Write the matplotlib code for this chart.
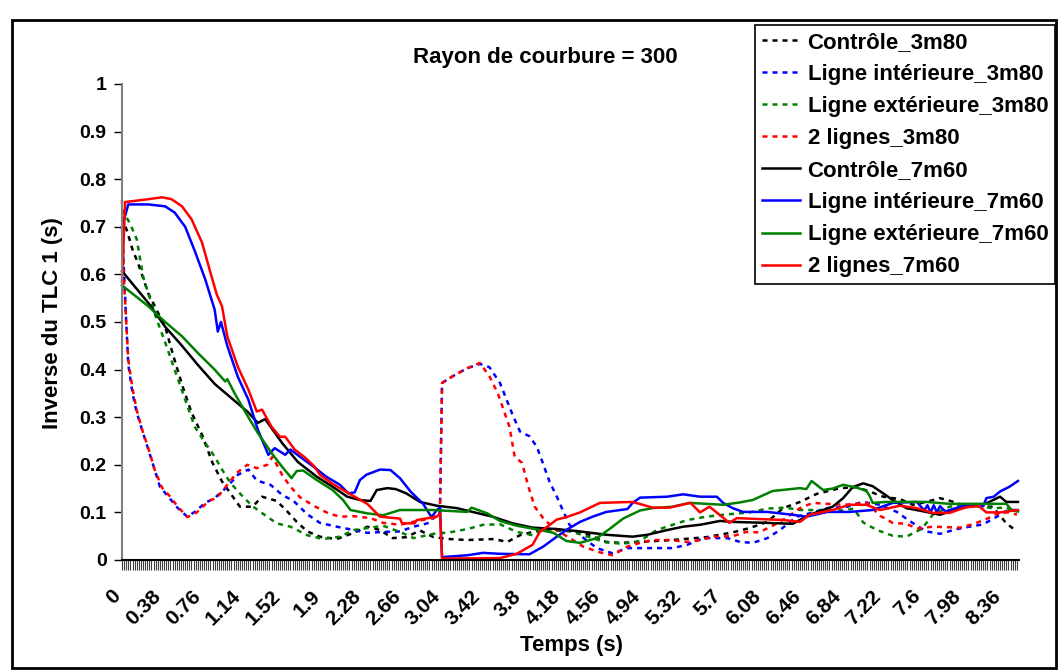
import matplotlib
matplotlib.use('Agg')
import matplotlib.pyplot as plt
from matplotlib.patches import Rectangle
from matplotlib.transforms import ScaledTranslation
import numpy as np

plt.rcParams['font.family'] = ['Liberation Sans', 'DejaVu Sans']
plt.rcParams['font.weight'] = 'bold'

title = 'Rayon de courbure = 300'
xlabel = 'Temps (s)'
ylabel = 'Inverse du TLC 1 (s)'

labels = ['Contrôle_3m80', 'Ligne intérieure_3m80', 'Ligne extérieure_3m80', '2 lignes_3m80',
          'Contrôle_7m60', 'Ligne intérieure_7m60', 'Ligne extérieure_7m60', '2 lignes_7m60']

# (time s, 1/TLC s)
ctrl_3m80 = [(0, 0.72), (0.05, 0.69), (0.1, 0.652), (0.15, 0.625), (0.25, 0.56), (0.41, 0.49),
             (0.49, 0.427), (0.58, 0.362), (0.66, 0.31), (0.76, 0.263), (0.86, 0.204), (0.95, 0.165),
             (1.03, 0.14), (1.12, 0.112), (1.24, 0.112), (1.33, 0.133), (1.47, 0.124), (1.57, 0.102),
             (1.66, 0.08), (1.76, 0.06), (1.88, 0.049), (2.04, 0.044), (2.2, 0.057), (2.33, 0.07),
             (2.45, 0.063), (2.57, 0.046), (2.7, 0.048), (2.83, 0.062), (2.96, 0.048), (3.11, 0.044),
             (3.28, 0.042), (3.53, 0.044), (3.66, 0.038), (3.78, 0.052), (3.97, 0.063), (4.22, 0.061),
             (4.38, 0.058), (4.6, 0.038), (4.73, 0.036), (4.92, 0.038), (5.23, 0.042), (5.55, 0.048),
             (5.8, 0.058), (5.96, 0.067), (6.13, 0.08), (6.28, 0.109), (6.44, 0.122), (6.6, 0.139),
             (6.82, 0.151), (6.98, 0.153), (7.1, 0.144), (7.23, 0.133), (7.39, 0.128), (7.51, 0.116),
             (7.64, 0.122), (7.77, 0.13), (7.9, 0.122), (8.02, 0.112), (8.27, 0.112), (8.4, 0.077),
             (8.5, 0.06)]

int_3m80 = [(0, 0.70), (0.02, 0.60), (0.04, 0.50), (0.06, 0.41), (0.1, 0.35), (0.14, 0.31),
            (0.19, 0.274), (0.25, 0.232), (0.31, 0.19), (0.36, 0.154), (0.44, 0.133), (0.53, 0.109),
            (0.62, 0.091), (0.69, 0.101), (0.79, 0.12), (0.88, 0.13), (1.0, 0.154), (1.1, 0.179),
            (1.2, 0.19), (1.28, 0.167), (1.41, 0.158), (1.52, 0.137), (1.63, 0.124), (1.76, 0.096),
            (1.88, 0.078), (2.04, 0.07), (2.2, 0.063), (2.33, 0.057), (2.48, 0.059), (2.64, 0.06),
            (2.77, 0.07), (2.9, 0.077), (2.96, 0.088), (3.02, 0.1), (3.04, 0.372), (3.14, 0.386),
            (3.28, 0.403), (3.4, 0.412), (3.49, 0.405), (3.59, 0.372), (3.71, 0.305), (3.78, 0.27),
            (3.87, 0.26), (3.94, 0.238), (4.0, 0.202), (4.06, 0.165), (4.13, 0.133), (4.19, 0.103),
            (4.25, 0.074), (4.38, 0.047), (4.51, 0.025), (4.66, 0.014), (4.8, 0.025), (5.0, 0.025),
            (5.23, 0.025), (5.37, 0.032), (5.52, 0.046), (5.75, 0.046), (5.87, 0.038), (5.99, 0.036),
            (6.13, 0.046), (6.25, 0.063), (6.41, 0.091), (6.53, 0.098), (6.7, 0.109), (6.89, 0.112),
            (7.03, 0.122), (7.2, 0.116), (7.36, 0.101), (7.48, 0.082), (7.64, 0.06), (7.77, 0.055),
            (7.93, 0.065), (8.05, 0.07), (8.18, 0.075), (8.31, 0.091), (8.42, 0.105), (8.5, 0.105)]

ext_3m80 = [(0, 0.737), (0.08, 0.705), (0.14, 0.674), (0.2, 0.596), (0.25, 0.56), (0.33, 0.505),
            (0.41, 0.457), (0.5, 0.40), (0.6, 0.337), (0.69, 0.28), (0.79, 0.246), (0.88, 0.217),
            (0.95, 0.19), (1.03, 0.162), (1.14, 0.135), (1.24, 0.113), (1.34, 0.097), (1.47, 0.077),
            (1.6, 0.07), (1.76, 0.052), (1.91, 0.044), (2.07, 0.049), (2.2, 0.063), (2.33, 0.067),
            (2.48, 0.072), (2.64, 0.059), (2.77, 0.046), (2.96, 0.055), (3.11, 0.058), (3.28, 0.065),
            (3.43, 0.074), (3.59, 0.075), (3.75, 0.059), (3.9, 0.052), (3.97, 0.06), (4.22, 0.063),
            (4.38, 0.052), (4.6, 0.037), (4.76, 0.034), (4.92, 0.04), (5.08, 0.063), (5.37, 0.084),
            (5.55, 0.091), (5.71, 0.095), (5.96, 0.1), (6.13, 0.108), (6.3, 0.11), (6.44, 0.105),
            (6.7, 0.105), (6.85, 0.104), (6.95, 0.108), (7.04, 0.079), (7.17, 0.063), (7.32, 0.051),
            (7.45, 0.049), (7.6, 0.066), (7.7, 0.095), (7.86, 0.112), (8.02, 0.116), (8.27, 0.109),
            (8.4, 0.11), (8.5, 0.1)]

deux_3m80 = [(0, 0.757), (0.02, 0.58), (0.04, 0.5), (0.06, 0.42), (0.1, 0.36), (0.14, 0.315),
             (0.19, 0.275), (0.25, 0.235), (0.31, 0.19), (0.38, 0.152), (0.45, 0.135), (0.53, 0.112),
             (0.62, 0.09), (0.71, 0.1), (0.83, 0.125), (0.9, 0.13), (1.0, 0.158), (1.09, 0.183),
             (1.19, 0.2), (1.28, 0.193), (1.38, 0.2), (1.43, 0.217), (1.52, 0.179), (1.6, 0.154),
             (1.69, 0.132), (1.82, 0.114), (1.96, 0.098), (2.07, 0.091), (2.2, 0.092), (2.36, 0.088),
             (2.48, 0.078), (2.64, 0.074), (2.8, 0.082), (2.96, 0.088), (3.02, 0.1), (3.04, 0.372),
             (3.14, 0.386), (3.28, 0.403), (3.4, 0.414), (3.49, 0.386), (3.57, 0.35), (3.68, 0.28),
             (3.73, 0.217), (3.8, 0.204), (3.86, 0.154), (3.92, 0.112), (4.0, 0.088), (4.1, 0.067),
             (4.26, 0.045), (4.38, 0.028), (4.54, 0.016), (4.66, 0.01), (4.8, 0.028), (4.92, 0.036),
             (5.04, 0.042), (5.2, 0.042), (5.37, 0.038), (5.5, 0.042), (5.61, 0.049), (5.8, 0.05),
             (5.93, 0.059), (6.05, 0.058), (6.18, 0.072), (6.32, 0.09), (6.44, 0.109), (6.56, 0.12),
             (6.7, 0.118), (6.85, 0.116), (6.98, 0.118), (7.08, 0.12), (7.2, 0.093), (7.32, 0.078),
             (7.45, 0.076), (7.55, 0.066), (7.7, 0.07), (7.96, 0.068), (8.08, 0.075), (8.21, 0.086),
             (8.34, 0.1), (8.43, 0.1), (8.5, 0.095)]

ctrl_7m60 = [(0, 0.607), (0.25, 0.54), (0.41, 0.49), (0.57, 0.45), (0.72, 0.41), (0.88, 0.37),
             (1.04, 0.34), (1.2, 0.31), (1.29, 0.288), (1.36, 0.296), (1.52, 0.246), (1.67, 0.206),
             (1.85, 0.175), (2.0, 0.154), (2.14, 0.133), (2.26, 0.126), (2.36, 0.124), (2.42, 0.147),
             (2.52, 0.151), (2.6, 0.149), (2.7, 0.14), (2.83, 0.122), (2.99, 0.114), (3.18, 0.109),
             (3.33, 0.101), (3.52, 0.091), (3.71, 0.077), (3.9, 0.068), (4.13, 0.065), (4.35, 0.06),
             (4.6, 0.053), (4.85, 0.049), (4.99, 0.053), (5.18, 0.063), (5.33, 0.07), (5.49, 0.074),
             (5.68, 0.082), (5.8, 0.08), (6.13, 0.078), (6.37, 0.076), (6.53, 0.095), (6.75, 0.112),
             (6.85, 0.13), (6.94, 0.153), (7.04, 0.161), (7.13, 0.155), (7.23, 0.14), (7.32, 0.126),
             (7.45, 0.109), (7.64, 0.101), (7.77, 0.095), (7.9, 0.105), (8.02, 0.111), (8.18, 0.116),
             (8.34, 0.133), (8.4, 0.122), (8.51, 0.122)]

int_7m60 = [(0, 0.70), (0.06, 0.747), (0.25, 0.747), (0.41, 0.743), (0.5, 0.73), (0.6, 0.70),
            (0.69, 0.65), (0.79, 0.59), (0.88, 0.526), (0.91, 0.48), (0.94, 0.50), (1.0, 0.45),
            (1.1, 0.385), (1.2, 0.337), (1.29, 0.274), (1.39, 0.221), (1.45, 0.235), (1.55, 0.221),
            (1.6, 0.232), (1.69, 0.217), (1.82, 0.196), (1.94, 0.175), (2.07, 0.158), (2.15, 0.14),
            (2.21, 0.142), (2.26, 0.168), (2.32, 0.179), (2.45, 0.19), (2.55, 0.189), (2.64, 0.172),
            (2.74, 0.144), (2.86, 0.118), (2.94, 0.09), (2.99, 0.105), (3.02, 0.11), (3.04, 0.006),
            (3.28, 0.01), (3.43, 0.015), (3.59, 0.013), (3.87, 0.012), (4.0, 0.028), (4.13, 0.049),
            (4.22, 0.063), (4.35, 0.08), (4.47, 0.091), (4.6, 0.101), (4.8, 0.107), (4.85, 0.12),
            (4.92, 0.131), (5.18, 0.133), (5.33, 0.138), (5.49, 0.133), (5.65, 0.133), (5.71, 0.12),
            (5.8, 0.109), (5.9, 0.101), (6.13, 0.101), (6.37, 0.095), (6.5, 0.091), (6.7, 0.101),
            (6.91, 0.101), (7.13, 0.105), (7.32, 0.12), (7.55, 0.122), (7.62, 0.104), (7.65, 0.115),
            (7.68, 0.1), (7.71, 0.115), (7.74, 0.1), (7.77, 0.113), (7.82, 0.102), (8.02, 0.116),
            (8.18, 0.113), (8.21, 0.13), (8.28, 0.133), (8.34, 0.144), (8.43, 0.154), (8.51, 0.166)]

ext_7m60 = [(0, 0.577), (0.25, 0.533), (0.41, 0.50), (0.57, 0.47), (0.72, 0.435), (0.88, 0.40),
            (0.98, 0.375), (1.0, 0.38), (1.07, 0.35), (1.2, 0.30), (1.29, 0.267), (1.42, 0.225),
            (1.52, 0.196), (1.61, 0.172), (1.66, 0.187), (1.72, 0.188), (1.85, 0.168), (2.0, 0.147),
            (2.1, 0.126), (2.17, 0.105), (2.33, 0.098), (2.48, 0.094), (2.64, 0.105), (2.95, 0.105),
            (3.28, 0.101), (3.32, 0.11), (3.47, 0.098), (3.59, 0.082), (3.75, 0.072), (3.97, 0.063),
            (4.1, 0.057), (4.22, 0.04), (4.35, 0.036), (4.51, 0.046), (4.63, 0.065), (4.76, 0.087),
            (4.92, 0.104), (5.04, 0.109), (5.23, 0.112), (5.39, 0.12), (5.55, 0.118), (5.71, 0.116),
            (5.87, 0.121), (5.99, 0.126), (6.06, 0.133), (6.18, 0.145), (6.44, 0.151), (6.5, 0.149),
            (6.55, 0.166), (6.66, 0.147), (6.75, 0.15), (6.85, 0.158), (6.98, 0.152), (7.07, 0.145),
            (7.1, 0.135), (7.13, 0.12), (7.26, 0.122), (7.64, 0.122), (7.86, 0.118), (8.2, 0.118),
            (8.4, 0.118), (8.45, 0.105), (8.51, 0.102)]

deux_7m60 = [(0, 0.585), (0.03, 0.752), (0.25, 0.758), (0.38, 0.762), (0.47, 0.758), (0.57, 0.743),
             (0.66, 0.716), (0.76, 0.667), (0.85, 0.596), (0.9, 0.558), (0.95, 0.533), (1.0, 0.47),
             (1.1, 0.406), (1.2, 0.358), (1.28, 0.312), (1.33, 0.316), (1.42, 0.28), (1.5, 0.259),
             (1.55, 0.259), (1.64, 0.232), (1.74, 0.215), (1.83, 0.196), (1.88, 0.179), (2.0, 0.16),
             (2.17, 0.138), (2.33, 0.118), (2.45, 0.091), (2.64, 0.087), (2.66, 0.077), (2.78, 0.077),
             (2.8, 0.084), (2.99, 0.091), (3.02, 0.098), (3.04, 0.003), (3.59, 0.004), (3.75, 0.013),
             (3.9, 0.032), (3.97, 0.06), (4.04, 0.07), (4.13, 0.085), (4.22, 0.09), (4.35, 0.1),
             (4.54, 0.12), (4.85, 0.122), (5.04, 0.11), (5.2, 0.11), (5.4, 0.12), (5.49, 0.1),
             (5.58, 0.112), (5.77, 0.078), (5.84, 0.088), (6.28, 0.084), (6.44, 0.08), (6.53, 0.095),
             (6.75, 0.105), (6.91, 0.116), (7.07, 0.116), (7.2, 0.105), (7.39, 0.114), (7.55, 0.109),
             (7.7, 0.099), (7.86, 0.099), (8.02, 0.111), (8.14, 0.113), (8.21, 0.1), (8.34, 0.1),
             (8.51, 0.105)]

series = [ctrl_3m80, int_3m80, ext_3m80, deux_3m80, ctrl_7m60, int_7m60, ext_7m60, deux_7m60]
colors = ['black', '#0000ff', '#008000', '#ff0000'] * 2
styles = [(0, (2, 2))] * 4 + ['-'] * 4

W, H = 1058, 670
fig = plt.figure(figsize=(W / 100, H / 100), dpi=100)
fig.add_artist(Rectangle((12 / W, 1 - 668 / H), (1056 - 12) / W, (668 - 20) / H,
                         transform=fig.transFigure, fill=False, ec='black', lw=2))

ax = fig.add_axes([122 / W, (H - 560) / H, (1019 - 122) / W, (560 - 84) / H])
handles = []
for pts, c, ls, lab in zip(series, colors, styles, labels):
    t = [p[0] for p in pts]
    v = [p[1] for p in pts]
    h, = ax.plot(t, v, color=c, linestyle=ls, lw=1.8, label=lab, clip_on=False)
    handles.append(h)

ax.set_xlim(0, 8.52)
ax.set_ylim(0, 1)
for s in ['top', 'right']:
    ax.spines[s].set_visible(False)
ax.spines['left'].set_color('#808080')
ax.spines['left'].set_linewidth(1.5)
ax.spines['bottom'].set_color('black')
ax.spines['bottom'].set_linewidth(1.5)

ax.set_yticks(np.arange(0, 1.01, 0.1))
ax.set_yticklabels(['0', '0.1', '0.2', '0.3', '0.4', '0.5', '0.6', '0.7', '0.8', '0.9', '1'])
ax.tick_params(axis='y', direction='out', length=6, width=1, color='black', labelsize=14, pad=5)

# one tick per 0.02 s sample, a label every 19th
xt = np.arange(426) * 0.02
ax.set_xticks(xt)
ax.set_xticklabels(['%g' % round(x, 2) if i % 19 == 0 else '' for i, x in enumerate(xt)],
                   rotation=45, ha='right', va='top', rotation_mode='anchor')
ax.tick_params(axis='x', direction='out', length=7, width=0.8, color='#404040', labelsize=15, pad=12)
shift = ScaledTranslation(-0.11, 0, fig.dpi_scale_trans)
for lab in ax.get_xticklabels():
    lab.set_transform(lab.get_transform() + shift)

fig.text(545 / W, 1 - 58 / H, title, ha='center', va='center', fontsize=16, fontweight='bold')
fig.text(571 / W, 1 - 646 / H, xlabel, ha='center', va='center', fontsize=16, fontweight='bold')
fig.text(53 / W, 1 - 323 / H, ylabel, ha='center', va='center', rotation=90, fontsize=16,
         fontweight='bold')

leg = fig.legend(handles, labels, loc='upper right', bbox_to_anchor=(1055 / W, 1 - 25 / H),
                 frameon=True, fancybox=False, edgecolor='black', framealpha=1,
                 prop={'family': 'Liberation Sans', 'weight': 'bold', 'size': 16},
                 handlelength=1.7, labelspacing=0.5, borderpad=0.3, handletextpad=0.35,
                 borderaxespad=0)
leg.get_frame().set_linewidth(1.2)

fig.savefig('out.png', dpi=100)
